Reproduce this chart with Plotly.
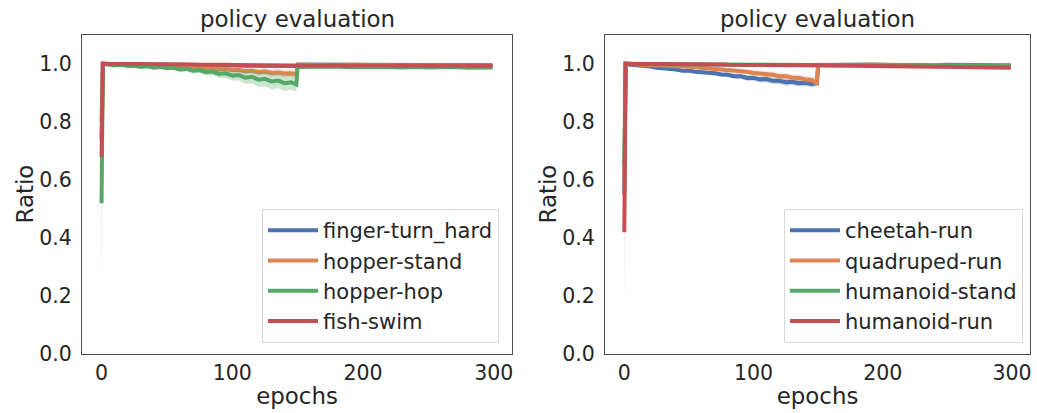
import plotly.graph_objects as go

EPOCHS = [0, 1, 5, 10, 15, 20, 25, 30, 35, 40, 45, 50, 55, 60, 65, 70, 75, 80, 85, 90,
          95, 100, 105, 110, 115, 120, 125, 130, 135, 140, 145, 149,
          150, 160, 170, 180, 190, 200, 210, 220, 230, 240, 250, 260, 270, 280, 290, 299]

X_TICKS = [0, 100, 200, 300]
Y_TICKS = [0.0, 0.2, 0.4, 0.6, 0.8, 1.0]

# ---- left panel ----
FINGER_TURN_HARD = [0.74, 1.000, 1.000, 0.999, 0.999, 0.999, 0.998, 0.998, 0.998, 0.998,
                    0.997, 0.997, 0.997, 0.997, 0.996, 0.996, 0.996, 0.996, 0.995, 0.995,
                    0.995, 0.995, 0.995, 0.994, 0.994, 0.994, 0.994, 0.993, 0.993, 0.993,
                    0.993, 0.993,
                    0.998, 0.998, 0.997, 0.998, 0.997, 0.997, 0.997, 0.997, 0.996, 0.997,
                    0.996, 0.996, 0.996, 0.996, 0.995, 0.996]
FINGER_TURN_HARD_SD = [0.05, 0.001, 0.002, 0.002, 0.002, 0.002, 0.002, 0.002, 0.002, 0.003,
                       0.003, 0.003, 0.003, 0.003, 0.003, 0.003, 0.003, 0.003, 0.003, 0.003,
                       0.003, 0.004, 0.004, 0.004, 0.004, 0.004, 0.004, 0.004, 0.004, 0.004,
                       0.004, 0.004,
                       0.002, 0.002, 0.002, 0.002, 0.002, 0.002, 0.002, 0.002, 0.002, 0.002,
                       0.002, 0.002, 0.002, 0.002, 0.002, 0.002]

HOPPER_STAND = [0.80, 1.000, 1.000, 0.998, 0.999, 0.997, 0.998, 0.995, 0.996, 0.994,
                0.995, 0.992, 0.993, 0.990, 0.991, 0.988, 0.989, 0.985, 0.986, 0.982,
                0.983, 0.979, 0.980, 0.975, 0.977, 0.972, 0.974, 0.969, 0.971, 0.967,
                0.968, 0.964,
                0.997, 0.996, 0.997, 0.996, 0.997, 0.996, 0.996, 0.997, 0.996, 0.995,
                0.996, 0.996, 0.995, 0.996, 0.995, 0.995]
HOPPER_STAND_SD = [0.05, 0.001, 0.002, 0.002, 0.003, 0.003, 0.003, 0.004, 0.004, 0.004,
                   0.005, 0.005, 0.005, 0.006, 0.006, 0.006, 0.007, 0.007, 0.008, 0.008,
                   0.009, 0.009, 0.010, 0.010, 0.011, 0.011, 0.012, 0.012, 0.012, 0.013,
                   0.013, 0.013,
                   0.003, 0.003, 0.003, 0.003, 0.003, 0.003, 0.003, 0.003, 0.003, 0.003,
                   0.003, 0.003, 0.003, 0.003, 0.003, 0.003]

HOPPER_HOP = [0.52, 1.000, 0.998, 0.995, 0.997, 0.993, 0.994, 0.990, 0.992, 0.987,
              0.990, 0.985, 0.987, 0.981, 0.983, 0.977, 0.979, 0.972, 0.974, 0.966,
              0.968, 0.960, 0.962, 0.953, 0.956, 0.946, 0.949, 0.940, 0.943, 0.934,
              0.937, 0.929,
              0.990, 0.991, 0.989, 0.991, 0.989, 0.990, 0.988, 0.990, 0.988, 0.990,
              0.988, 0.989, 0.990, 0.987, 0.989, 0.988]
HOPPER_HOP_SD = [0.32, 0.002, 0.003, 0.003, 0.004, 0.004, 0.005, 0.005, 0.006, 0.006,
                 0.007, 0.007, 0.008, 0.008, 0.009, 0.010, 0.011, 0.012, 0.013, 0.014,
                 0.016, 0.017, 0.019, 0.021, 0.023, 0.025, 0.026, 0.027, 0.027, 0.027,
                 0.026, 0.024,
                 0.005, 0.005, 0.005, 0.005, 0.005, 0.005, 0.005, 0.005, 0.005, 0.005,
                 0.005, 0.005, 0.005, 0.005, 0.005, 0.005]

FISH_SWIM = [0.68, 1.002, 1.001, 1.001, 1.000, 1.000, 1.000, 0.999, 0.999, 0.999,
             0.999, 0.998, 0.999, 0.998, 0.998, 0.998, 0.997, 0.998, 0.997, 0.997,
             0.997, 0.996, 0.997, 0.996, 0.996, 0.996, 0.995, 0.996, 0.995, 0.995,
             0.995, 0.995,
             0.997, 0.997, 0.996, 0.997, 0.996, 0.996, 0.997, 0.996, 0.996, 0.996,
             0.995, 0.996, 0.995, 0.995, 0.995, 0.994]
FISH_SWIM_SD = [0.06, 0.001, 0.001, 0.001, 0.001, 0.001, 0.001, 0.001, 0.001, 0.001,
                0.002, 0.002, 0.002, 0.002, 0.002, 0.002, 0.002, 0.002, 0.002, 0.002,
                0.002, 0.002, 0.002, 0.002, 0.002, 0.002, 0.002, 0.002, 0.002, 0.002,
                0.002, 0.002,
                0.002, 0.002, 0.002, 0.002, 0.002, 0.002, 0.002, 0.002, 0.002, 0.002,
                0.002, 0.002, 0.002, 0.002, 0.002, 0.002]

# ---- right panel ----
CHEETAH_RUN = [0.55, 1.000, 0.997, 0.996, 0.992, 0.991, 0.987, 0.986, 0.982, 0.981,
               0.977, 0.977, 0.973, 0.972, 0.968, 0.968, 0.964, 0.963, 0.958, 0.958,
               0.952, 0.952, 0.947, 0.948, 0.942, 0.942, 0.937, 0.939, 0.934, 0.935,
               0.931, 0.934,
               0.997, 0.998, 0.997, 0.997, 0.998, 0.997, 0.996, 0.997, 0.997, 0.996,
               0.997, 0.996, 0.996, 0.997, 0.996, 0.996]
CHEETAH_RUN_SD = [0.10, 0.001, 0.002, 0.003, 0.003, 0.004, 0.004, 0.005, 0.005, 0.006,
                  0.006, 0.006, 0.007, 0.007, 0.007, 0.008, 0.008, 0.008, 0.009, 0.009,
                  0.010, 0.010, 0.010, 0.011, 0.011, 0.011, 0.012, 0.012, 0.012, 0.012,
                  0.012, 0.012,
                  0.003, 0.003, 0.003, 0.003, 0.003, 0.003, 0.003, 0.003, 0.003, 0.003,
                  0.003, 0.003, 0.003, 0.003, 0.003, 0.003]

QUADRUPED_RUN = [0.60, 1.000, 1.000, 0.998, 0.998, 0.996, 0.996, 0.994, 0.994, 0.992,
                 0.992, 0.990, 0.990, 0.987, 0.987, 0.984, 0.983, 0.979, 0.978, 0.974,
                 0.973, 0.969, 0.968, 0.964, 0.963, 0.958, 0.958, 0.953, 0.952, 0.947,
                 0.945, 0.935,
                 0.997, 0.996, 0.997, 0.996, 0.996, 0.997, 0.996, 0.996, 0.995, 0.996,
                 0.995, 0.995, 0.996, 0.995, 0.995, 0.994]
QUADRUPED_RUN_SD = [0.10, 0.001, 0.002, 0.002, 0.003, 0.003, 0.003, 0.004, 0.004, 0.004,
                    0.005, 0.005, 0.005, 0.006, 0.006, 0.006, 0.007, 0.007, 0.008, 0.008,
                    0.008, 0.009, 0.009, 0.010, 0.010, 0.010, 0.011, 0.011, 0.011, 0.012,
                    0.012, 0.012,
                    0.003, 0.003, 0.003, 0.003, 0.003, 0.003, 0.003, 0.003, 0.003, 0.003,
                    0.003, 0.003, 0.003, 0.003, 0.003, 0.003]

HUMANOID_STAND = [0.65, 1.001, 1.001, 1.000, 1.000, 1.000, 0.999, 0.999, 0.999, 0.999,
                  0.999, 0.998, 0.998, 0.998, 0.998, 0.998, 0.998, 0.997, 0.998, 0.997,
                  0.997, 0.997, 0.997, 0.997, 0.997, 0.996, 0.997, 0.996, 0.997, 0.996,
                  0.996, 0.997,
                  0.997, 0.997, 0.996, 0.996, 0.996, 0.995, 0.996, 0.995, 0.995, 0.994,
                  0.995, 0.994, 0.993, 0.994, 0.993, 0.992]
HUMANOID_STAND_SD = [0.08, 0.001, 0.001, 0.001, 0.001, 0.001, 0.002, 0.002, 0.002, 0.002,
                     0.002, 0.002, 0.002, 0.002, 0.002, 0.002, 0.002, 0.002, 0.002, 0.002,
                     0.002, 0.002, 0.002, 0.002, 0.002, 0.002, 0.002, 0.002, 0.002, 0.002,
                     0.002, 0.002,
                     0.003, 0.003, 0.003, 0.003, 0.003, 0.003, 0.003, 0.003, 0.003, 0.003,
                     0.003, 0.003, 0.003, 0.003, 0.003, 0.003]

HUMANOID_RUN = [0.42, 1.002, 1.001, 1.001, 1.000, 1.000, 1.000, 0.999, 0.999, 0.999,
                0.999, 0.999, 0.998, 0.998, 0.998, 0.998, 0.998, 0.997, 0.997, 0.997,
                0.997, 0.997, 0.996, 0.997, 0.996, 0.996, 0.996, 0.996, 0.995, 0.996,
                0.995, 0.995,
                0.995, 0.995, 0.994, 0.994, 0.993, 0.993, 0.992, 0.992, 0.991, 0.991,
                0.990, 0.990, 0.989, 0.988, 0.988, 0.987]
HUMANOID_RUN_SD = [0.27, 0.001, 0.001, 0.001, 0.001, 0.001, 0.002, 0.002, 0.002, 0.002,
                   0.002, 0.002, 0.002, 0.002, 0.002, 0.002, 0.002, 0.002, 0.002, 0.002,
                   0.002, 0.002, 0.002, 0.002, 0.002, 0.002, 0.002, 0.002, 0.002, 0.002,
                   0.002, 0.002,
                   0.003, 0.003, 0.003, 0.003, 0.003, 0.003, 0.003, 0.003, 0.003, 0.003,
                   0.003, 0.003, 0.003, 0.003, 0.003, 0.003]

LEFT_NAMES = ["finger-turn_hard", "hopper-stand", "hopper-hop", "fish-swim"]
RIGHT_NAMES = ["cheetah-run", "quadruped-run", "humanoid-stand", "humanoid-run"]
LEFT_DATA = [(FINGER_TURN_HARD, FINGER_TURN_HARD_SD), (HOPPER_STAND, HOPPER_STAND_SD),
             (HOPPER_HOP, HOPPER_HOP_SD), (FISH_SWIM, FISH_SWIM_SD)]
RIGHT_DATA = [(CHEETAH_RUN, CHEETAH_RUN_SD), (QUADRUPED_RUN, QUADRUPED_RUN_SD),
              (HUMANOID_STAND, HUMANOID_STAND_SD), (HUMANOID_RUN, HUMANOID_RUN_SD)]

COLORS = ["#4c72b0", "#dd8452", "#55a868", "#c44e52"]
TEXT = "#262626"
FONT = "DejaVu Sans"


def rgba(h, a):
    h = h.lstrip("#")
    return "rgba(%d,%d,%d,%.2f)" % (int(h[0:2], 16), int(h[2:4], 16), int(h[4:6], 16), a)


fig = go.Figure()


def add_panel(names, data, xa, ya, legend):
    for name, (mean, sd), color in zip(names, data, COLORS):
        upper = [m + s for m, s in zip(mean, sd)]
        lower = [m - s for m, s in zip(mean, sd)]
        fig.add_trace(go.Scatter(
            x=EPOCHS + EPOCHS[::-1], y=upper + lower[::-1], fill="toself",
            fillcolor=rgba(color, 0.3), line=dict(width=0), mode="lines",
            hoverinfo="skip", showlegend=False, xaxis=xa, yaxis=ya))
        fig.add_trace(go.Scatter(
            x=EPOCHS, y=mean, mode="lines", name=name,
            line=dict(color=color, width=4), xaxis=xa, yaxis=ya, legend=legend))


add_panel(LEFT_NAMES, LEFT_DATA, "x", "y", "legend")
add_panel(RIGHT_NAMES, RIGHT_DATA, "x2", "y2", "legend2")

axis_common = dict(showline=True, mirror=True, linecolor="#4d4d4d", linewidth=1.3,
                   showgrid=False, zeroline=False, ticks="", automargin=False,
                   tickfont=dict(family=FONT, size=20.5, color=TEXT))

xcommon = dict(axis_common, range=[-14.95, 313.95], tickvals=X_TICKS,
               ticklabelstandoff=0,
               title=dict(text="epochs", font=dict(family=FONT, size=22.9, color=TEXT),
                          standoff=4))
ycommon = dict(axis_common, range=[0, 1.1], tickvals=Y_TICKS, tickformat=".1f",
               ticklabelstandoff=5)

Y_DOM = [59 / 413, 378 / 413]
Y_MID = (59 + 378) / 2 / 413

legend_common = dict(y=70 / 413, xanchor="right", yanchor="bottom",
                     bgcolor="rgba(255,255,255,0.8)", bordercolor="#d9d9d9", borderwidth=1,
                     itemwidth=50,
                     font=dict(family=FONT, size=21, color=TEXT))

fig.update_layout(
    width=1037, height=413,
    margin=dict(l=0, r=0, t=0, b=0, autoexpand=False),
    paper_bgcolor="white", plot_bgcolor="white",
    font=dict(family=FONT, color=TEXT),
    xaxis=dict(xcommon, domain=[82 / 1037, 512 / 1037], anchor="y"),
    yaxis=dict(ycommon, domain=Y_DOM, anchor="x"),
    xaxis2=dict(xcommon, domain=[605 / 1037, 1030 / 1037], anchor="y2"),
    yaxis2=dict(ycommon, domain=Y_DOM, anchor="x2"),
    legend=dict(legend_common, x=499 / 1037),
    legend2=dict(legend_common, x=1023 / 1037),
    annotations=[
        dict(text="policy evaluation", xref="x domain", yref="y domain", x=0.5, y=1,
             xanchor="center", yanchor="bottom", showarrow=False, yshift=1,
             font=dict(family=FONT, size=22.9, color=TEXT)),
        dict(text="policy evaluation", xref="x2 domain", yref="y2 domain", x=0.5, y=1,
             xanchor="center", yanchor="bottom", showarrow=False, yshift=1,
             font=dict(family=FONT, size=22.9, color=TEXT)),
        dict(text="Ratio", xref="paper", yref="paper", x=24 / 1037, y=Y_MID,
             xanchor="center", yanchor="middle", textangle=-90, showarrow=False,
             font=dict(family=FONT, size=22.9, color=TEXT)),
        dict(text="Ratio", xref="paper", yref="paper", x=547 / 1037, y=Y_MID,
             xanchor="center", yanchor="middle", textangle=-90, showarrow=False,
             font=dict(family=FONT, size=22.9, color=TEXT)),
    ],
)

fig.write_html("out.html")
